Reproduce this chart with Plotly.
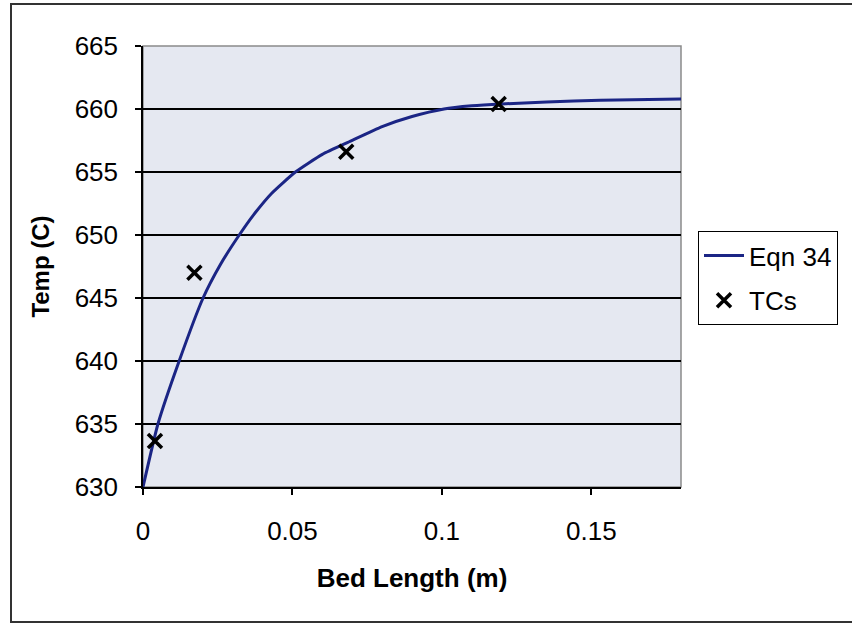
import plotly.graph_objects as go

# Model curve (Eqn 34): temperature along the bed
bed_length_eqn = [0, 0.005, 0.0121, 0.0201, 0.026, 0.0322, 0.037, 0.043,
                  0.051, 0.060, 0.069, 0.080, 0.090, 0.1007, 0.110, 0.120,
                  0.135, 0.153, 0.180]
temp_eqn = [630.0, 635.0, 640.0, 645.0, 647.7, 650.0, 651.6, 653.3,
            655.0, 656.4, 657.4, 658.6, 659.4, 660.0, 660.25, 660.4,
            660.55, 660.7, 660.8]

# Thermocouple readings
bed_length_tc = [0.004, 0.0172, 0.068, 0.119]
temp_tc = [633.65, 647.0, 656.6, 660.4]

x_tick_vals = [0, 0.05, 0.1, 0.15]
x_tick_text = ["0", "0.05", "0.1", "0.15"]
y_tick_vals = [630, 635, 640, 645, 650, 655, 660, 665]

FONT = "Liberation Sans, Arial, sans-serif"

fig = go.Figure()
fig.add_trace(go.Scatter(
    x=bed_length_eqn, y=temp_eqn, mode="lines", name="Eqn 34",
    line=dict(color="#1b2585", width=3, shape="spline", smoothing=0.5),
    legendgroup="a",
))
fig.add_trace(go.Scatter(
    x=bed_length_tc, y=temp_tc, mode="markers", name="TCs",
    marker=dict(symbol="x-thin", size=14, color="black",
                line=dict(color="black", width=3.5)),
    legendgroup="b",
))

W, H = 852, 624
L, R, T, B = 143, 171, 46, 137
pw, ph = W - L - R, H - T - B

def px_x(p):
    return (p - L) / pw

def px_y(p):
    return (H - B - p) / ph

fig.update_layout(
    width=W, height=H,
    margin=dict(l=L, r=R, t=T, b=B, pad=0),
    paper_bgcolor="white",
    plot_bgcolor="#e5e8f1",
    font=dict(family=FONT, color="black"),
    showlegend=True,
    legend=dict(
        x=px_x(698), y=px_y(231), xanchor="left", yanchor="top",
        bgcolor="white", bordercolor="black", borderwidth=1,
        font=dict(size=26, family=FONT, color="black"),
        traceorder="grouped", tracegroupgap=8,
        itemwidth=40,
    ),
    shapes=[
        # plot area frame
        dict(type="rect", xref="paper", yref="paper", x0=0, x1=1, y0=0, y1=1,
             line=dict(color="#8a8a8a", width=1.5), layer="below"),
        # chart frame
        dict(type="rect", xref="paper", yref="paper",
             x0=px_x(11), x1=px_x(858), y0=px_y(4), y1=px_y(622),
             line=dict(color="#333333", width=2)),
    ],
)

fig.update_xaxes(
    range=[0, 0.18], tickvals=x_tick_vals, ticktext=x_tick_text,
    showgrid=False, zeroline=False,
    showline=True, linecolor="black", linewidth=1.5,
    ticks="outside", ticklen=6, tickcolor="black", tickwidth=1.5,
    tickfont=dict(size=26, family=FONT, color="black"),
    ticklabelstandoff=14,
    title=dict(text="<b>Bed Length (m)</b>", standoff=24,
               font=dict(size=26, family=FONT, color="black")),
)
fig.update_yaxes(
    range=[630, 665], tickvals=y_tick_vals,
    showgrid=True, gridcolor="black", gridwidth=1.5, zeroline=False,
    showline=True, linecolor="black", linewidth=1.5,
    ticks="outside", ticklen=6, tickcolor="black", tickwidth=1.5,
    tickfont=dict(size=26, family=FONT, color="black"),
    ticklabelstandoff=12,
    title=dict(text="<b>Temp (C)</b>", standoff=18,
               font=dict(size=24, family=FONT, color="black")),
)

fig.write_html("out.html")
